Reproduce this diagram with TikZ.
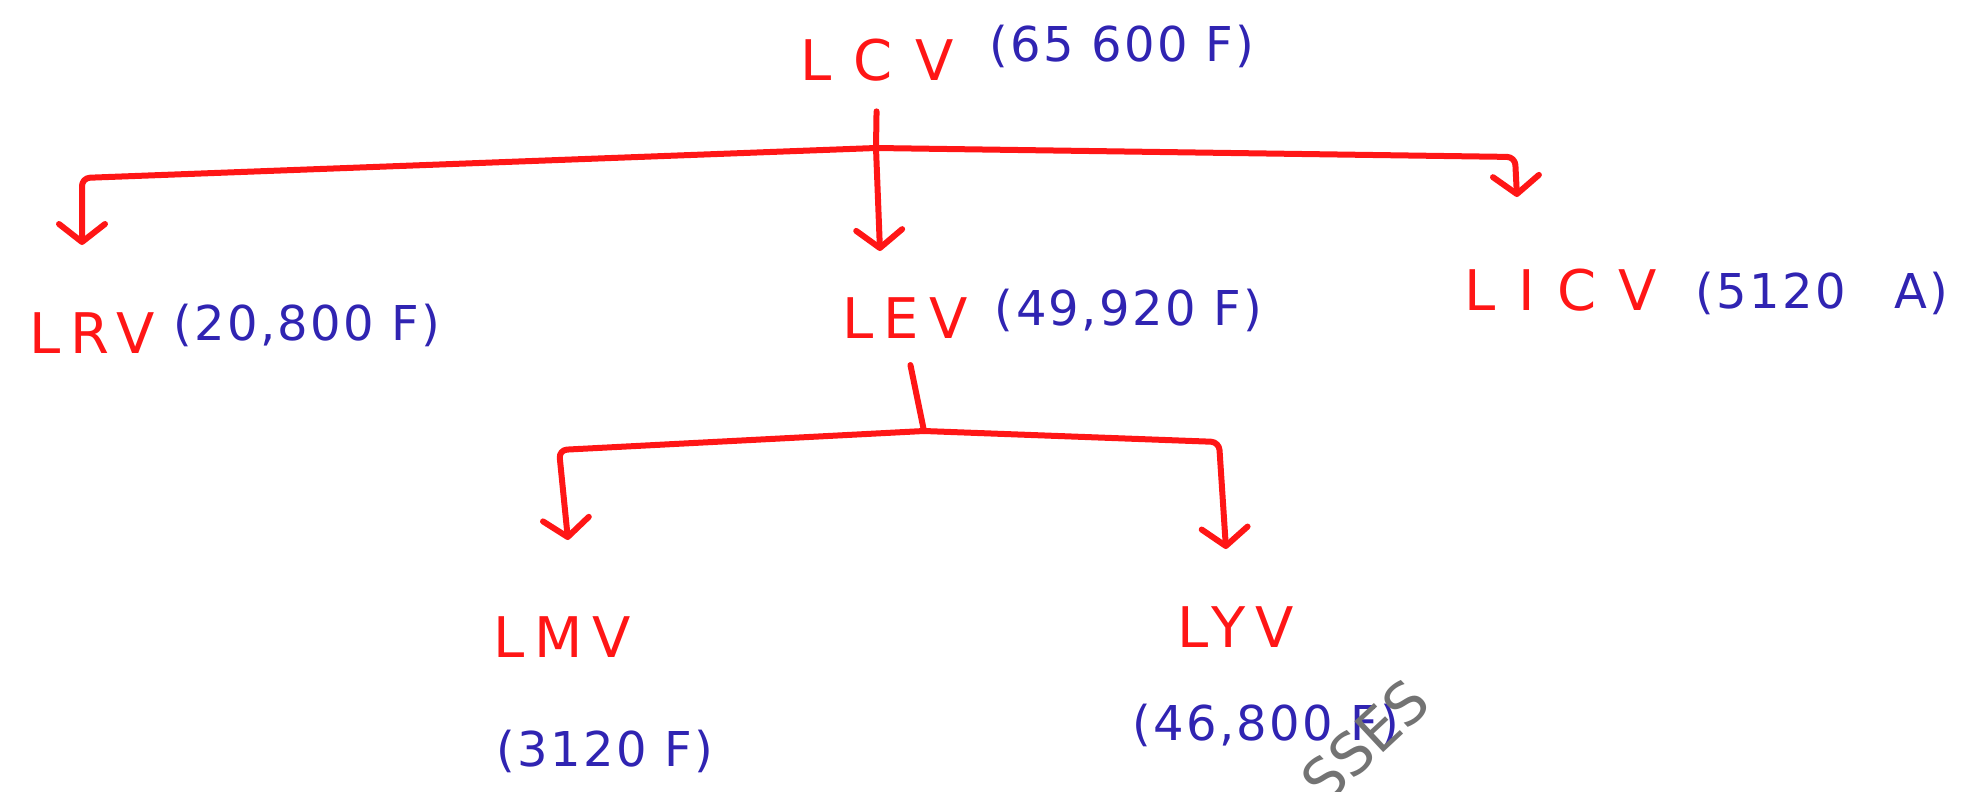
\documentclass[tikz,border=0pt]{standalone}
\usepackage{fontspec}
\setmainfont{DejaVu Sans}
\newfontfamily\handfont[LetterSpace=18]{DejaVu Sans}
\newfontfamily\widehand[LetterSpace=40]{DejaVu Sans}
\newfontfamily\numfont[LetterSpace=5]{DejaVu Sans}
\usepackage{tikz}
\usetikzlibrary{arrows.meta,positioning}
\definecolor{penred}{RGB}{255,22,22}
\definecolor{penblue}{RGB}{48,36,178}

\begin{document}
\begin{tikzpicture}[
  x=1pt,y=-1pt,
  vehicle/.style={text=penred,font=\handfont\fontsize{56}{60}\selectfont,inner sep=0pt},
  widevehicle/.style={vehicle,font=\widehand\fontsize{56}{60}\selectfont},
  amount/.style={text=penblue,font=\numfont\fontsize{48}{52}\selectfont,inner sep=0pt},
  link/.style={draw=penred,line width=6pt,line cap=round,line join=round},
  >={Straight Barb[length=18pt,width=46pt,round]}
]
\useasboundingbox (0,0) rectangle (1971,792);

% vehicle names and amounts
\node[widevehicle] (lcv) at (877,60) {LCV};
\node[amount,right=35pt of lcv,yshift=14pt] (lcvval) {(65 600 F)};
\node[vehicle] (lrv) at (92,333) {LRV};
\node[amount,right=18pt of lrv,yshift=8pt] (lrvval) {(20,800 F)};
\node[vehicle] (lev) at (905,318) {LEV};
\node[amount,right=27pt of lev,yshift=8pt] (levval) {(49,920 F)};
\node[widevehicle] (licv) at (1561,290) {LICV};
\node[amount,right=38pt of licv,yshift=-3pt] (licvval) {(5120\quad A)};
\node[vehicle] (lmv) at (562,637) {LMV};
\node[amount,below=72pt of lmv,xshift=43pt] (lmvval) {(3120 F)};
\node[vehicle] (lyv) at (1236,627) {LYV};
\node[amount,below=56pt of lyv,xshift=30pt] (lyvval) {(46,800 F)};

% watermark
\node[text=black!55,font=\fontsize{58}{60}\selectfont,rotate=43] (mark) at (1365,741) {SSES};

% first split
\coordinate (j1) at (876,148);
\coordinate (lc1) at (82,178);
\coordinate (rc1) at (1515,157);
\coordinate (lrvtip) at (82,245);
\coordinate (levtip) at (880,251);
\coordinate (licvtip) at (1517,197);
\draw[link,shorten <=30pt] (lcv.south) -- (j1);
\draw[link,->,rounded corners=8pt] (j1) -- (lc1) -- (lrvtip);
\draw[link,->,rounded corners=8pt] (j1) -- (rc1) -- (licvtip);
\draw[link,->] (j1) -- (levtip);

% second split
\coordinate (j2) at (924,431);
\coordinate (lc2) at (559,450);
\coordinate (rc2) at (1219,442);
\coordinate (lmvtip) at (568,540);
\coordinate (lyvtip) at (1226,549);
\draw[link,shorten <=27pt] (lev.south) -- (j2);
\draw[link,->,rounded corners=8pt] (j2) -- (lc2) -- (lmvtip);
\draw[link,->,rounded corners=8pt] (j2) -- (rc2) -- (lyvtip);
\end{tikzpicture}
\end{document}
